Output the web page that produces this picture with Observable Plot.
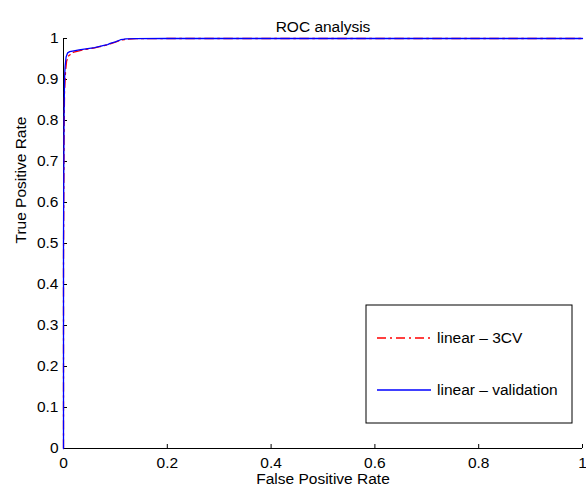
<!DOCTYPE html>
<html>
<head>
<meta charset="utf-8">
<script src="https://cdn.jsdelivr.net/npm/d3@7"></script>
<script src="https://cdn.jsdelivr.net/npm/@observablehq/plot@0.6"></script>
<style>
  html, body { margin: 0; padding: 0; background: #fff; }
  #chart { position: relative; width: 586px; height: 495px; }
  svg { font-family: "Liberation Sans", Arial, sans-serif; }
</style>
</head>
<body>
<div id="chart"></div>
<script>
// ---- data ----
const titleText = "ROC analysis";
const xLabel = "False Positive Rate";
const yLabel = "True Positive Rate";
const seriesNames = ["linear – 3CV", "linear – validation"];

const cvFpr = [0, 0, 0.001, 0.002, 0.004, 0.006, 0.01, 0.015, 0.02, 0.03, 0.04, 0.05, 0.06, 0.07, 0.08, 0.09, 0.1, 0.11, 0.12, 0.14, 0.2, 0.4, 0.6, 0.8, 1];
const cvTpr = [0, 0.45, 0.75, 0.87, 0.92, 0.945, 0.958, 0.963, 0.967, 0.970, 0.973, 0.975, 0.977, 0.980, 0.983, 0.987, 0.991, 0.996, 0.998, 0.9995, 1, 1, 1, 1, 1];

const valFpr = [0, 0, 0.001, 0.002, 0.003, 0.005, 0.008, 0.012, 0.02, 0.03, 0.04, 0.05, 0.06, 0.07, 0.08, 0.085, 0.09, 0.1, 0.11, 0.115, 0.12, 0.14, 0.2, 0.4, 0.6, 0.8, 1];
const valTpr = [0, 0.5, 0.8, 0.9, 0.93, 0.955, 0.965, 0.968, 0.970, 0.972, 0.974, 0.976, 0.978, 0.981, 0.984, 0.985, 0.988, 0.992, 0.997, 0.998, 0.999, 0.9995, 1, 1, 1, 1, 1];

const xTicks = [0, 0.2, 0.4, 0.6, 0.8, 1];
const yTicks = [0, 0.1, 0.2, 0.3, 0.4, 0.5, 0.6, 0.7, 0.8, 0.9, 1];

const cv = cvFpr.map((x, i) => ({x, y: cvTpr[i]}));
const val = valFpr.map((x, i) => ({x, y: valTpr[i]}));

const FS = 15.5;
const W = 586, H = 495;
const plot = Plot.plot({
  width: W, height: H,
  marginLeft: 63, marginRight: 4, marginTop: 38, marginBottom: 47,
  style: {fontFamily: "'Liberation Sans', Arial, sans-serif", fontSize: FS + "px", background: "#fff"},
  x: {domain: [0, 1], ticks: xTicks, tickFormat: d => String(d), label: null},
  y: {domain: [0, 1], ticks: yTicks, tickFormat: d => String(d), label: null},
  marks: [
    Plot.axisX({ticks: xTicks, tickFormat: d => String(d), tickSize: -4, tickPadding: 12, fontSize: FS, fill: "#000", stroke: "#000", label: null}),
    Plot.axisY({ticks: yTicks, tickFormat: d => String(d), tickSize: -4, tickPadding: 9, fontSize: FS, fill: "#000", stroke: "#000", label: null}),
    Plot.ruleX([0], {stroke: "#000", strokeWidth: 1}),
    Plot.ruleY([0], {stroke: "#000", strokeWidth: 1}),
    Plot.line(cv, {x: "x", y: "y", stroke: "#ff0000", strokeWidth: 1.3, strokeDasharray: "9,4,2,4"}),
    Plot.line(val, {x: "x", y: "y", stroke: "#0000ff", strokeWidth: 1.3}),
    Plot.text([titleText], {frameAnchor: "top", dy: -18, fontSize: FS, fill: "#000"}),
    Plot.text([xLabel], {frameAnchor: "bottom", dy: 35, fontSize: FS, fill: "#000"}),
    Plot.text([yLabel], {frameAnchor: "left", dx: -42, rotate: -90, fontSize: FS, fill: "#000"})
  ]
});
document.getElementById("chart").appendChild(plot);

// legend drawn on top of the plot's svg
const svg = d3.select(plot);
const lg = svg.append("g").attr("transform", "translate(366,305)");
lg.append("rect").attr("width", 206).attr("height", 118).attr("fill", "#fff").attr("stroke", "#000").attr("stroke-width", 1);
const styles = [
  {stroke: "#ff0000", dash: "9,4,2,4"},
  {stroke: "#0000ff", dash: null}
];
seriesNames.forEach((name, i) => {
  const y = 33 + i * 52;
  const l = lg.append("line").attr("x1", 11).attr("x2", 65).attr("y1", y).attr("y2", y)
    .attr("stroke", styles[i].stroke).attr("stroke-width", 1.3);
  if (styles[i].dash) l.attr("stroke-dasharray", styles[i].dash);
  lg.append("text").attr("x", 71).attr("y", y).attr("dy", "0.35em")
    .attr("text-anchor", "start")
    .attr("font-size", FS).attr("fill", "#000").text(name);
});
</script>
</body>
</html>
